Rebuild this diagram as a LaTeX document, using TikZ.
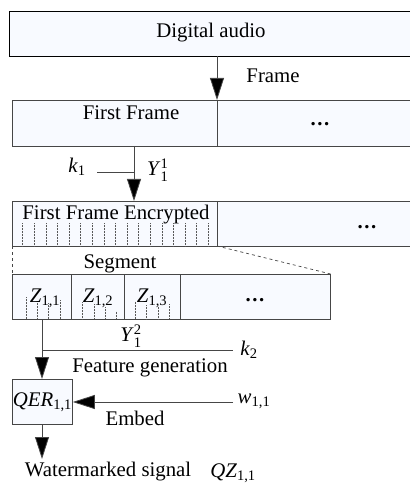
\documentclass[tikz,border=0pt]{standalone}
\usepackage{fontspec}
\usepackage{amsmath}
\setmainfont{Liberation Serif}
\usetikzlibrary{arrows.meta}
\definecolor{boxfill}{RGB}{248,250,255}
\definecolor{edge}{RGB}{70,70,70}
\newcommand{\itsub}[2]{\textit{#1}\ensuremath{_{\text{#2}}}}
\newcommand{\dotsx}{{\bfseries .\kern1.5pt.\kern1.5pt.}}
\tikzset{
  box/.style={draw=edge, fill=boxfill, line width=0.8pt, inner sep=0pt},
  lbl/.style={inner sep=0pt, font=\fontsize{20.8}{24}\selectfont},
  arr/.style={draw=edge, line width=0.8pt, -{Triangle[length=22pt,width=14pt,fill=black]}},
  ln/.style={draw=edge, line width=0.8pt},
  hatch/.style={draw=black!65, line width=0.5pt, densely dotted},
  dashline/.style={draw=edge, line width=0.7pt, dashed}
}
\begin{document}
\begin{tikzpicture}[x=1pt,y=-1pt]
\useasboundingbox (0,0) rectangle (409,486);
% top box
\draw[box, draw=black] (9,11) rectangle (413,56);
\node[lbl] (audio) at (211,33) {Digital audio};
\coordinate (audioS) at (217,56);
% frame boxes
\draw[box] (12,100) rectangle (217,146);
\draw[box] (217,100) rectangle (413,146);
\coordinate (frameN) at (217,100);
\node[lbl] (first) at (131,113) {First Frame};
\node[lbl] (dots1) at (320,124) {\dotsx};
\node[lbl] (framelbl) at (273,76) {Frame};
\draw[arr] (audioS) -- (frameN);
% encrypted
\draw[box] (12,201) rectangle (217,246);
\draw[box] (217,201) rectangle (413,246);
\node[lbl] (enc) at (116,215) {First Frame Encrypted};
\node[lbl] (dots2) at (367,227) {\dotsx};
\foreach \i in {0,...,16}{\draw[hatch] (22.7+\i*11.6,223) -- (22.7+\i*11.6,246);}
\coordinate (firstS) at (134,146);
\coordinate (encN) at (134,201);
\draw[arr] (firstS) -- (encN);
\coordinate (k1e) at (97,172);
\coordinate (k1j) at (134,172);
\draw[ln] (k1e) -- (k1j);
\node[lbl] (k1) at (77,167) {\itsub{k}{1}};
\node[lbl, anchor=west] (y11) at (147,170) {\textit{Y}\ensuremath{_{\text{1}}^{\text{1}}}};
% segment
\coordinate (encSW) at (12,246);
\coordinate (encSE) at (217,246);
\node[box, minimum width=59pt, minimum height=45pt, anchor=north west] (z1) at (12,274) {};
\node[box, minimum width=53pt, minimum height=45pt, anchor=north west] (z2) at (71,274) {};
\node[box, minimum width=56pt, minimum height=45pt, anchor=north west] (z3) at (124,274) {};
\node[box, minimum width=150pt, minimum height=45pt, anchor=north west] (z4) at (180,274) {};
\draw[dashline] (encSW) -- (z1.north west);
\draw[dashline] (encSE) -- (z4.north east);
\node[lbl] (seglbl) at (120,264) {Segment};
% hatches in cells
\foreach \x/\t in {26/297,37.3/301,48.7/303,60/300,82.7/302,94/304,105.3/307,116.7/311.7,135/301.7,146.7/305,158.3/306.7,169.3/304.3}{\draw[hatch] (\x,\t) -- (\x,319);}
\node[lbl] (zz1) at (45,298) {\itsub{Z}{1,1}};
\node[lbl] (zz2) at (98,298) {\itsub{Z}{1,2}};
\node[lbl] (zz3) at (152,298) {\itsub{Z}{1,3}};
\node[lbl] (dots3) at (255,300) {\dotsx};
% QER
\node[box, minimum width=60pt, minimum height=45pt, anchor=north west] (qer) at (12,379) {};
\node[lbl] (qerlbl) at (qer.center) {\itsub{QER}{1,1}};
\coordinate (zS) at (42,319);
\draw[arr] (zS) -- (zS |- qer.north);
\coordinate (k2j) at (42,350);
\coordinate (k2e) at (233,350);
\draw[ln] (k2j) -- (k2e);
\node[lbl] (k2) at (249,350) {\itsub{k}{2}};
\node[lbl] (y12) at (131,336) {\textit{Y}\ensuremath{_{\text{1}}^{\text{2}}}};
\node[lbl] (feat) at (150,368) {Feature generation};
\coordinate (we) at (233,402);
\draw[arr] (we) -- (we -| qer.east);
\node[lbl] (w11) at (254,401) {\itsub{w}{1,1}};
\node[lbl] (embed) at (135,418) {Embed};
\coordinate (outp) at (42,459);
\draw[arr] (qer.south -| zS) -- (outp);
\node[lbl] (wm) at (108,472) {Watermarked signal};
\node[lbl] (qz) at (233,473) {\itsub{QZ}{1,1}};
\end{tikzpicture}
\end{document}
